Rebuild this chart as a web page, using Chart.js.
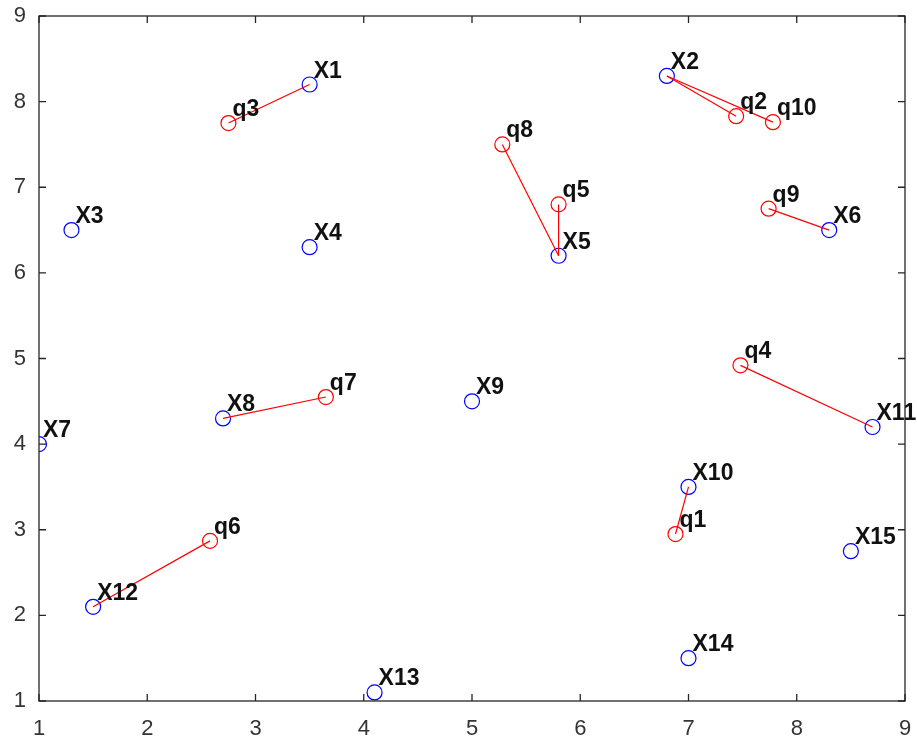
<!DOCTYPE html>
<html>
<head>
<meta charset="utf-8">
<script src="https://cdn.jsdelivr.net/npm/chart.js@4.4.1/dist/chart.umd.min.js"></script>
<style>
  body { margin: 0; background: #fff; }
  canvas { display: block; }
</style>
</head>
<body>
<canvas id="pairChart" width="917" height="742"></canvas>
<script>
// reference points X1..X15
const refNames = ["X1", "X2", "X3", "X4", "X5", "X6", "X7", "X8", "X9", "X10", "X11", "X12", "X13", "X14", "X15"];
const refX = [3.5, 6.8, 1.3, 3.5, 5.8, 8.3, 1.0, 2.7, 5.0, 7.0, 8.7, 1.5, 4.1, 7.0, 8.5];
const refY = [8.2, 8.3, 6.5, 6.3, 6.2, 6.5, 4.0, 4.3, 4.5, 3.5, 4.2, 2.1, 1.1, 1.5, 2.75];

// query points q1..q10 and the X each one links to (1-based)
const queryNames = ["q1", "q2", "q3", "q4", "q5", "q6", "q7", "q8", "q9", "q10"];
const queryX = [6.88, 7.44, 2.75, 7.48, 5.8, 2.58, 3.65, 5.28, 7.74, 7.78];
const queryY = [2.95, 7.83, 7.75, 4.92, 6.8, 2.87, 4.55, 7.5, 6.75, 7.76];
const queryLink = [10, 2, 1, 11, 5, 12, 8, 5, 6, 2];

const axisTicks = [1, 2, 3, 4, 5, 6, 7, 8, 9];

const axisColor = "#262626";

function toPoints(xs, ys) {
  return xs.map((x, i) => ({ x: x, y: ys[i] }));
}

let datasets = [];
queryLink.forEach((k, i) => {
  datasets.push({
    data: [{ x: queryX[i], y: queryY[i] }, { x: refX[k - 1], y: refY[k - 1] }],
    showLine: true,
    borderColor: "#ff0000",
    borderWidth: 1.2,
    pointRadius: 0,
    pointHoverRadius: 0,
  });
});
datasets.push({
  data: toPoints(refX, refY),
  names: refNames,
  pointStyle: "circle",
  pointRadius: 7.5,
  pointBorderColor: "#0000ff",
  pointBackgroundColor: "rgba(0,0,0,0)",
  pointBorderWidth: 1.2,
});
datasets.push({
  data: toPoints(queryX, queryY),
  names: queryNames,
  pointStyle: "circle",
  pointRadius: 7.5,
  pointBorderColor: "#ff0000",
  pointBackgroundColor: "rgba(0,0,0,0)",
  pointBorderWidth: 1.2,
});

// box with inward ticks, like the original figure
const boxPlugin = {
  id: "box",
  afterDraw(chart) {
    let ctx = chart.ctx;
    let a = chart.chartArea;
    let xs = chart.scales.x;
    let ys = chart.scales.y;
    ctx.save();
    ctx.strokeStyle = axisColor;
    ctx.lineWidth = 1.3;
    ctx.strokeRect(a.left, a.top, a.right - a.left, a.bottom - a.top);
    ctx.beginPath();
    axisTicks.forEach((v) => {
      let px = xs.getPixelForValue(v);
      ctx.moveTo(px, a.bottom); ctx.lineTo(px, a.bottom - 7);
      ctx.moveTo(px, a.top); ctx.lineTo(px, a.top + 7);
      let py = ys.getPixelForValue(v);
      ctx.moveTo(a.left, py); ctx.lineTo(a.left + 7, py);
      ctx.moveTo(a.right, py); ctx.lineTo(a.right - 7, py);
    });
    ctx.stroke();
    ctx.restore();
  },
};

// point names next to every marker
const namePlugin = {
  id: "names",
  afterDatasetsDraw(chart) {
    let ctx = chart.ctx;
    ctx.save();
    ctx.font = "bold 23px 'Liberation Sans', Arial, sans-serif";
    ctx.fillStyle = "#111";
    ctx.textAlign = "left";
    ctx.textBaseline = "alphabetic";
    chart.data.datasets.forEach((ds, di) => {
      if (!ds.names) return;
      chart.getDatasetMeta(di).data.forEach((pt, i) => {
        ctx.fillText(ds.names[i], pt.x + 4, pt.y - 7);
      });
    });
    ctx.restore();
  },
};

function noPadX(s) {
  s.height = 41;
  s.paddingLeft = 0;
  s.paddingRight = 0;
}
function noPadY(s) {
  s.width = 39;
  s.paddingTop = 0;
  s.paddingBottom = 0;
}

let ctx = document.getElementById("pairChart").getContext("2d");
let myChart = new Chart(ctx, {
  type: "scatter",
  data: { datasets: datasets },
  options: {
    responsive: false,
    animation: false,
    layout: { padding: { top: 16, right: 12, left: 0, bottom: 0 } },
    plugins: { legend: { display: false }, tooltip: { enabled: false } },
    scales: {
      x: {
        type: "linear",
        min: 1,
        max: 9,
        afterBuildTicks: (s) => { s.ticks = axisTicks.map((v) => ({ value: v })); },
        afterFit: noPadX,
        grid: { display: false, drawTicks: false },
        border: { display: false },
        ticks: {
          color: "#333",
          padding: 15,
          font: { family: "'Liberation Sans', Arial, sans-serif", size: 22 },
        },
      },
      y: {
        type: "linear",
        min: 1,
        max: 9,
        afterBuildTicks: (s) => { s.ticks = axisTicks.map((v) => ({ value: v })); },
        afterFit: noPadY,
        grid: { display: false, drawTicks: false },
        border: { display: false },
        ticks: {
          color: "#333",
          padding: 13,
          font: { family: "'Liberation Sans', Arial, sans-serif", size: 22 },
        },
      },
    },
  },
  plugins: [boxPlugin, namePlugin],
});
</script>
</body>
</html>
